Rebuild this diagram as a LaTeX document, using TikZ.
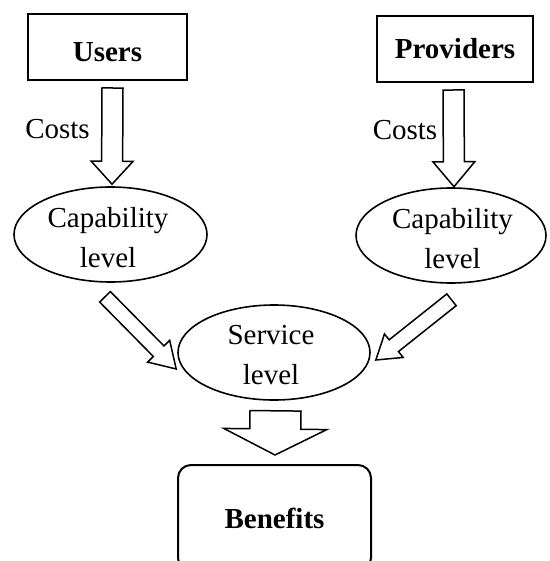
\documentclass[tikz,border=0pt]{standalone}
\usepackage{fontspec}
\setmainfont{Liberation Serif}
\usetikzlibrary{calc,shapes.geometric}
\tikzset{
  boxnode/.style={draw, line width=2pt, rectangle, inner sep=0pt, font=\fontsize{29}{40}\selectfont\bfseries},
  ovalnode/.style={draw, line width=1.6pt, ellipse, inner sep=0pt, minimum width=193pt, minimum height=95pt},
  txtnode/.style={align=center, inner sep=0pt, font=\fontsize{29}{40}\selectfont},
  blockarrow/.style={draw, line width=1.5pt, fill=white, line join=miter},
}
\newcommand\blockarr[5]{%
  \coordinate (ba-m) at ($(#2)!#5!(#1)$);
  \draw[blockarrow] ($(#1)!#3!90:(#2)$) -- ($(ba-m)!#3!90:(#2)$) -- ($(ba-m)!#4!90:(#2)$) -- (#2)
     -- ($(ba-m)!#4!-90:(#2)$) -- ($(ba-m)!#3!-90:(#2)$) -- ($(#1)!#3!-90:(#2)$) -- cycle;
}
\begin{document}
\begin{tikzpicture}[x=1pt,y=-1pt]
\useasboundingbox (0,0) rectangle (549,561);
% boxes
\node[boxnode, minimum width=159pt, minimum height=66pt, text height=29pt, text depth=0pt] (users) at (107.5,47) {Users};
\node[boxnode, minimum width=156pt, minimum height=66pt] (providers) at (455,49) {Providers};
% ellipses
\node[ovalnode] (capL) at (110.5,234.5) {};
\node[ovalnode, minimum width=190pt] (capR) at (451,235.5) {};
\node[ovalnode, minimum width=192pt] (service) at (274,352.5) {};
\node[txtnode] (capLt) at ($(capL)+(-2.5,3)$) {Capability\\level};
\node[txtnode] (capRt) at ($(capR)+(1.5,3)$) {Capability\\level};
\node[txtnode] (servicet) at ($(service)+(-3,3)$) {Service\\level};
% benefits
\node[boxnode, rounded corners=13pt, minimum width=193pt, minimum height=106pt] (benefits) at (274.5,518) {Benefits};
% cost labels
\node[txtnode] (costL) at (57.5,129) {Costs};
\node[txtnode] (costR) at (405,130) {Costs};
% arrow end points
\coordinate (aUs) at ($(users.south)+(5,7)$);
\coordinate (aUe) at ($(capL.north)+(1.5,-2)$);
\coordinate (aPs) at ($(providers.south)+(-1.5,7)$);
\coordinate (aPe) at ($(capR.north)+(3,-0.5)$);
\coordinate (aLs) at ($(capL.south)+(-5.5,14)$);
\coordinate (aLe) at ($(service.west)+(-1,16.5)$);
\coordinate (aRs) at ($(capR.south)+(0.5,16)$);
\coordinate (aRe) at ($(service.east)+(5,7.5)$);
\coordinate (aSs) at ($(service.south)+(1.5,10)$);
\coordinate (aSe) at ($(benefits.north)+(0.5,-9)$);
% block arrows
\blockarr{aUs}{aUe}{10.5pt}{21pt}{23pt}
\blockarr{aPs}{aPe}{10.5pt}{21pt}{25pt}
\blockarr{aLs}{aLe}{7.5pt}{15.5pt}{25pt}
\blockarr{aRs}{aRe}{7.5pt}{15pt}{23pt}
\blockarr{aSs}{aSe}{25.5pt}{51.5pt}{26pt}
\end{tikzpicture}
\end{document}
